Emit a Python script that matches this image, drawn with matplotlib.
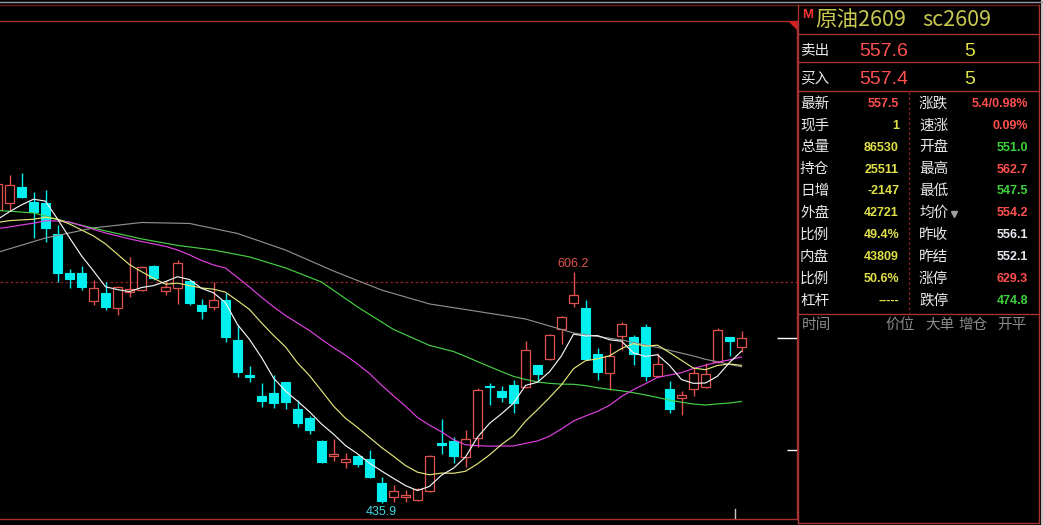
import numpy as np
import pandas as pd
import matplotlib
matplotlib.use("Agg")
import matplotlib.pyplot as plt
import matplotlib.transforms as mtransforms

# ---------------- data ----------------
opens = [652.0, 657.1, 668.9, 657.9, 657.1, 634.3, 605.5, 605.5, 584.8, 590.7,
         579.6, 591.4, 592.9, 610.6, 592.2, 594.4, 599.6, 581.9, 580.4, 585.5,
         556.0, 530.2, 514.7, 516.9, 525.0, 505.1, 498.5, 481.5, 470.4, 466.0,
         470.4, 468.2, 450.5, 440.2, 440.2, 437.9, 444.6, 480.0, 481.5, 469.7,
         483.7, 522.1, 518.4, 522.8, 521.3, 537.6, 542.0, 564.1, 583.3, 579.6,
         545.7, 531.7, 559.0, 558.2, 565.6, 529.5, 519.9, 513.2, 519.9, 521.3,
         539.8, 558.2, 551.0]
highs = [672.6, 677.8, 679.3, 665.2, 666.7, 640.9, 608.4, 610.6, 600.3, 598.8,
         595.9, 617.3, 610.6, 611.4, 599.6, 615.1, 599.6, 586.3, 598.8, 590.7,
         567.1, 536.8, 524.3, 530.2, 525.0, 511.7, 499.9, 482.2, 483.0, 472.6,
         471.1, 474.8, 454.9, 449.0, 445.3, 446.8, 471.1, 497.7, 484.4, 489.6,
         520.6, 524.3, 522.1, 526.5, 555.3, 537.6, 560.5, 573.7, 606.2, 585.5,
         550.1, 553.8, 569.3, 559.7, 567.8, 546.4, 525.8, 518.4, 536.1, 539.0,
         564.9, 558.2, 562.7]
lows = [650.5, 652.0, 660.8, 631.3, 628.3, 598.8, 594.4, 592.9, 581.9, 578.2,
        574.5, 587.8, 592.2, 600.3, 589.2, 582.6, 581.9, 571.5, 578.2, 554.5,
        528.7, 525.0, 506.6, 505.8, 505.1, 491.8, 486.7, 465.2, 466.7, 461.6,
        462.3, 454.2, 435.9, 436.5, 436.4, 437.2, 443.9, 471.9, 465.2, 462.3,
        477.1, 508.0, 510.3, 502.2, 520.6, 525.0, 541.3, 553.1, 580.4, 541.3,
        526.5, 519.1, 548.6, 537.6, 525.8, 528.7, 502.2, 500.7, 514.7, 520.6,
        539.0, 544.2, 547.5]
closes = [671.2, 670.4, 661.6, 650.5, 638.7, 605.5, 601.0, 595.1, 594.4, 580.4,
          595.1, 593.7, 609.9, 601.8, 595.1, 612.9, 583.3, 577.4, 585.5, 558.2,
          532.4, 528.7, 511.0, 509.5, 510.3, 494.8, 489.6, 466.0, 471.9, 468.2,
          464.5, 454.9, 437.2, 444.6, 441.6, 446.1, 470.4, 478.5, 470.4, 483.0,
          519.1, 521.3, 513.9, 509.5, 548.6, 530.9, 559.7, 573.0, 589.2, 542.0,
          532.4, 544.2, 567.8, 545.7, 529.5, 538.3, 505.1, 515.4, 531.7, 530.9,
          563.4, 555.3, 557.5]

# moving-average values before the visible window is full
ma5_head = [645.0, 650.7, 655.7, 659.9]
ma10_head = [642.7, 644.1, 644.6, 645.1, 646.6, 645.1, 641.6, 637.2, 632.8]
ma20_head = [638.2, 639.4, 640.9, 642.2, 644.0, 643.8, 643.1, 640.5, 637.6, 635.0,
             632.8, 630.6, 628.7, 626.9, 625.1, 622.4, 618.8, 614.7, 611.4]
ma40_head_idx = [0, 3, 6, 9, 12, 15, 18, 21, 24, 27, 30, 33, 36, 38]
ma40_head = [651.6, 649.8, 642.7, 636.5, 630.6, 625.8, 622.4, 617.3, 609.2, 598.8,
             580.4, 563.8, 552.0, 547.5]
ma60_head_idx = [0, 4, 8, 12, 16, 20, 24, 28, 32, 36, 40, 44, 48, 52, 55, 58]
ma60_head = [620.6, 631.3, 638.7, 642.7, 642.0, 634.6, 622.4, 606.9, 592.9, 582.6,
             577.1, 571.5, 561.2, 556.0, 550.5, 544.2]

marked_high = 606.2
marked_low = 435.9
ref_price = 599.0
limit_down_price = 474.8

title_flag = "M"
title_name = "原油2609"
title_code = "sc2609"
ask_label, ask_price, ask_vol = "卖出", "557.6", "5"
bid_label, bid_price, bid_vol = "买入", "557.4", "5"
left_labels = ["最新", "现手", "总量", "持仓", "日增", "外盘", "比例", "内盘", "比例", "杠杆"]
left_values = ["557.5", "1", "86530", "25511", "-2147", "42721", "49.4%", "43809", "50.6%", "-----"]
right_labels = ["涨跌", "速涨", "开盘", "最高", "最低", "均价", "昨收", "昨结", "涨停", "跌停"]
right_values = ["5.4/0.98%", "0.09%", "551.0", "562.7", "547.5", "554.2", "556.1", "552.1", "629.3", "474.8"]
header_labels = ["时间", "价位", "大单", "增仓", "开平"]

# ---------------- style ----------------
RED = "#e0524f"
CYAN = "#00f0f0"
FRAME = "#a83232"
VRED = "#ff5050"
VYEL = "#e0e048"
VGRN = "#3cd23c"
VWHT = "#e8e8f2"
LBL = "#e8e8e8"
CJK = ["Noto Sans CJK SC", "DejaVu Sans"]
NUM = ["Liberation Sans", "DejaVu Sans"]

left_colors = [VRED] + [VYEL] * 9
right_colors = [VRED, VRED, VGRN, VRED, VGRN, VRED, VWHT, VWHT, VRED, VGRN]

W, H = 1043, 525
fig = plt.figure(figsize=(W / 100, H / 100), dpi=100, facecolor="black")

ax = fig.add_axes([0, (H - 519) / H, 797 / W, (519 - 21) / H], zorder=1)
ax.set_facecolor("black")
ax.set_xlim(2.5 / 12, 799.5 / 12)
ax.set_ylim(423.9, 791.4)
ax.set_xticks([])
ax.set_yticks([])
ax.spines["left"].set_visible(False)
for s in ["top", "bottom", "right"]:
    ax.spines[s].set_color(FRAME)
    ax.spines[s].set_linewidth(1.0)

O = np.array(opens); Hh = np.array(highs); L = np.array(lows); C = np.array(closes)
n = len(C)
x = np.arange(n)
up = C >= O
dn = ~up
btm = np.minimum(O, C)
top = np.maximum(O, C)
hgt = np.maximum(top - btm, 0.5)
bw = 0.8

# reference dashed line
ax.axhline(ref_price, color="#8a2222", lw=0.9, ls=(0, (2.2, 1.8)), zorder=1)

# wicks
ax.vlines(x[dn], L[dn], Hh[dn], color=CYAN, lw=1.0, zorder=2)
ax.vlines(x[up], top[up], Hh[up], color=RED, lw=1.0, zorder=2)
ax.vlines(x[up], L[up], btm[up], color=RED, lw=1.0, zorder=2)
# bodies
ax.bar(x[dn], hgt[dn], bw, btm[dn], facecolor=CYAN, edgecolor=CYAN, lw=0.8, zorder=2.2)
ax.bar(x[up], hgt[up], bw, btm[up], facecolor="black", edgecolor=RED, lw=0.9, zorder=2.2)

# moving averages
cs = pd.Series(C)
def ma_line(period, head_idx, head_vals):
    roll = cs.rolling(period).mean().to_numpy()
    xs = list(head_idx) + list(range(period - 1, n))
    ys = list(head_vals) + list(roll[period - 1:])
    return xs, ys

for period, hi_, hv, col in [
    (60, ma60_head_idx, ma60_head, "#8e8e8e"),
    (40, ma40_head_idx, ma40_head, "#46d046"),
    (20, list(range(19)), ma20_head, "#e040e0"),
    (10, list(range(9)), ma10_head, "#e4e47a"),
    (5, list(range(4)), ma5_head, "#f4f4f4"),
]:
    xs, ys = ma_line(period, hi_, hv)
    ax.plot(xs, ys, color=col, lw=0.85, zorder=3, solid_joinstyle="round")

# high / low labels
hi_idx = highs.index(marked_high)
lo_idx = lows.index(marked_low)
ax.annotate(f"{marked_high:.1f}", xy=(hi_idx, marked_high), xytext=(0, 1.5),
            textcoords="offset points", ha="center", va="bottom", color=RED,
            fontsize=9, family=NUM, zorder=4)
ax.annotate(f"{marked_low:.1f}", xy=(lo_idx, marked_low), xytext=(0, -2.5),
            textcoords="offset points", ha="center", va="top", color="#40d8e0",
            fontsize=9, family=NUM, zorder=4)

# right-edge markers
ax.hlines(closes[-1], 779.5 / 12, 799.5 / 12, color="white", lw=1.0, zorder=4)
ax.hlines(limit_down_price, 789.5 / 12, 799.5 / 12, color="white", lw=1.0, zorder=4)
trans = mtransforms.blended_transform_factory(ax.transData, ax.transAxes)
ax.plot([737.5 / 12, 737.5 / 12], [0, 0.02], color="#c8c8c8", lw=1.0, transform=trans, zorder=4)

# ---------------- overlay: frame and quote panel ----------------
ov = fig.add_axes([0, 0, 1, 1], zorder=3)
ov.set_xlim(0, W)
ov.set_ylim(H, 0)
ov.axis("off")

ov.plot([0, W], [1.5, 1.5], color="#9a9aa2", lw=1.0)
ov.plot([0, 1039], [4.6, 4.6], color="#6a1a1a", lw=1.0)
ov.plot([797.5, 797.5], [4.6, 523], color=FRAME, lw=1.0)
ov.plot([1039, 1039], [4.6, 523], color=FRAME, lw=1.0)
ov.plot([797.5, 1039], [522.7, 522.7], color=FRAME, lw=1.0)
for yy in [34.3, 62.3, 90.7, 314.0]:
    ov.plot([797.5, 1039], [yy, yy], color=FRAME, lw=1.0)
ov.plot([909, 909], [92, 313], color="#8a2222", lw=0.9, ls=(0, (2, 2)))
ov.fill([788, 797, 797], [21, 21, 30], color="#d02020", lw=0)
ov.fill([1040.5, 1043, 1043, 1040.5], [0, 0, H, H], color="#c8c8c8", lw=0)

ov.text(802, 15.5, title_flag, color="#ff3434", fontsize=9.5, fontweight="bold",
        family=NUM, ha="left", va="center")
ov.text(815, 19.5, title_name, color="#c8c850", fontsize=15.5, family=CJK, ha="left", va="center")
ov.text(922, 19.5, title_code, color="#c8c850", fontsize=15.5, family=CJK, ha="left", va="center")

for yy, lab, pr, vol in [(50.5, ask_label, ask_price, ask_vol), (78.5, bid_label, bid_price, bid_vol)]:
    ov.text(800, yy, lab, color=LBL, fontsize=10.5, family=CJK, ha="left", va="center")
    ov.text(908, yy + 0.5, pr, color=VRED, fontsize=14, family=NUM, ha="right", va="center")
    ov.text(970, yy + 0.5, vol, color=VYEL, fontsize=14, family=NUM, ha="center", va="center")

row_y = [103.7, 125.3, 147.3, 169.2, 190.8, 213.0, 234.5, 257.0, 278.8, 300.5]
for i, yy in enumerate(row_y):
    ov.text(800, yy, left_labels[i], color=LBL, fontsize=10.5, family=CJK, ha="left", va="center")
    ov.text(899, yy + 0.5, left_values[i], color=left_colors[i], fontsize=9, fontweight="bold",
            family=NUM, ha="right", va="center")
    ov.text(919, yy, right_labels[i], color=LBL, fontsize=10.5, family=CJK, ha="left", va="center")
    ov.text(1028, yy + 0.5, right_values[i], color=right_colors[i], fontsize=9, fontweight="bold",
            family=NUM, ha="right", va="center")
ov.plot([953.5], [214], marker="v", color="#a0a0a0", markersize=4.5)

for xx, lab in zip([802, 885, 925, 958, 997], header_labels):
    ov.text(xx, 325, lab, color="#8c8c8c", fontsize=10.5, family=CJK, ha="left", va="center")

fig.savefig("out.png", dpi=100, facecolor="black")
